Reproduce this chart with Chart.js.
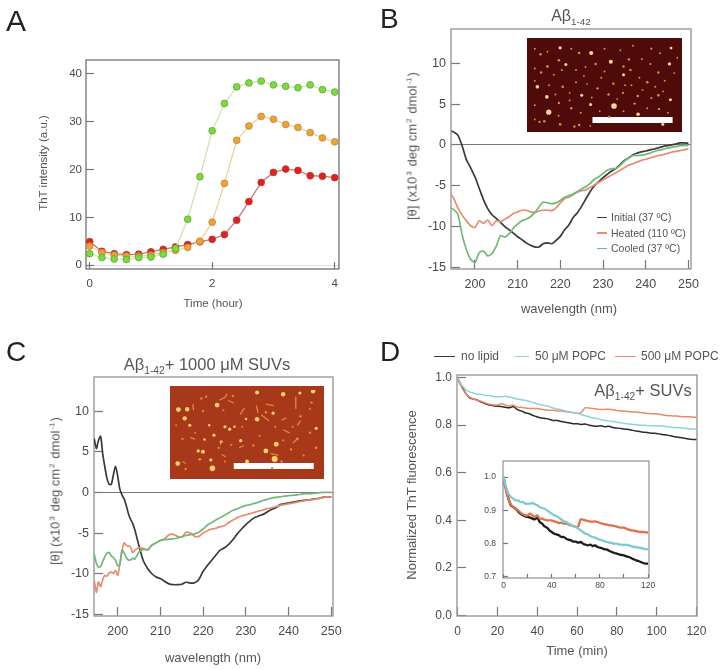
<!DOCTYPE html>
<html>
<head>
<meta charset="utf-8">
<script src="https://cdn.jsdelivr.net/npm/chart.js@4"></script>
<style>
    html, body { margin: 0; padding: 0; background: #fff; }
    #figure { position: relative; width: 726px; height: 670px; overflow: hidden; filter: blur(0.45px); font-family: "Liberation Sans", Arial, sans-serif; color: #555; }
    #figure canvas { position: absolute; }
    .lbl { position: absolute; white-space: nowrap; line-height: 1; }
    .lbl sub, .lbl sup { font-size: 62%; line-height: 0; }
    .lbl sup { margin: 0 1px; }
    .mid { transform: translate(-50%, -50%); }
    .rot { transform: translate(-50%, -50%) rotate(-90deg); }
    .row { transform: translateY(-50%); }
    .swatch { position: absolute; height: 1.6px; }
</style>
</head>
<body>
<div id="figure"></div>
<script>
// ========================================
// DATA
// ========================================

// Panel A - ThT kinetics
const hours = [0, 0.2, 0.4, 0.6, 0.8, 1, 1.2, 1.4, 1.6, 1.8, 2, 2.2, 2.4, 2.6, 2.8, 3, 3.2, 3.4, 3.6, 3.8, 4];
const thtGreen = [2.4, 1.6, 1.3, 1.2, 1.6, 1.7, 2.3, 3.5, 9.6, 18.5, 28.1, 33.8, 37.3, 38.1, 38.5, 37.7, 37.4, 37.1, 37.7, 36.7, 36.2];
const thtOrange = [4.0, 2.6, 2.1, 1.9, 1.9, 2.1, 2.6, 3.1, 3.7, 5.0, 9.0, 17.1, 26.1, 29.1, 31.1, 30.5, 29.4, 28.8, 27.7, 26.6, 25.8];
const thtRed = [4.9, 2.9, 2.4, 2.2, 2.3, 2.8, 3.3, 3.8, 4.3, 4.9, 5.4, 6.4, 9.4, 13.3, 17.3, 19.4, 20.1, 19.8, 18.7, 18.6, 18.3];

// Panel B - CD spectra
const nmB = [194.5, 195, 196, 197, 198, 199, 200, 201, 202, 203, 204, 205, 206, 207, 208, 209, 210, 211, 212, 213, 214, 215, 216, 217, 218, 219, 220, 221, 222, 223, 224, 225, 226, 227, 228, 229, 230, 231, 232, 233, 234, 235, 236, 237, 238, 239, 240, 241, 242, 243, 244, 245, 246, 247, 248, 249, 250];
const initialB = [1.7, 1.6, 1.2, -0.1, -1.8, -2.8, -3.9, -5.3, -6.7, -7.8, -8.55, -9.0, -9.5, -10.0, -10.4, -10.8, -11.25, -11.6, -12.0, -12.3, -12.5, -12.5, -12.1, -12.0, -12.1, -11.7, -11.2, -10.4, -9.8, -8.9, -8.3, -7.5, -6.6, -5.7, -5.0, -4.5, -4.0, -3.6, -3.2, -2.9, -2.4, -1.9, -1.6, -1.2, -1.0, -0.85, -0.75, -0.6, -0.5, -0.35, -0.2, -0.1, 0, 0.1, 0.25, 0.25, 0.2];
const heatedB = [-6.1, -6.5, -7.7, -8.6, -9.3, -9.9, -10.1, -9.3, -9.6, -9.2, -9.9, -9.3, -9.4, -9.1, -8.8, -8.4, -8.2, -8.0, -8.0, -8.2, -8.3, -8.1, -8.0, -8.0, -8.05, -7.7, -7.1, -6.6, -6.4, -6.1, -5.8, -5.6, -5.5, -5.2, -4.9, -4.6, -4.3, -4.0, -3.7, -3.4, -3.1, -2.8, -2.5, -2.3, -2.1, -1.9, -1.75, -1.6, -1.45, -1.3, -1.2, -1.05, -0.9, -0.8, -0.7, -0.6, -0.5];
const cooledB = [-7.8, -7.9, -8.5, -11.0, -12.8, -14.0, -14.4, -13.2, -13.0, -13.6, -13.3, -12.4, -11.1, -11.3, -10.9, -10.2, -9.7, -9.3, -9.1, -8.8, -8.3, -7.6, -7.0, -7.1, -7.2, -7.1, -6.8, -6.4, -6.2, -6.0, -5.7, -5.4, -5.1, -4.7, -4.2, -3.9, -3.5, -3.1, -2.9, -2.9, -2.5, -2.0, -1.6, -1.3, -1.3, -1.25, -1.15, -1.0, -0.8, -0.65, -0.55, -0.4, -0.3, -0.2, -0.1, -0.05, -0.05];

// Panel C - CD spectra with SUVs
const nmC = [194.5, 195, 195.5, 196, 196.5, 197, 197.5, 198, 198.5, 199, 199.5, 200, 200.5, 201, 201.5, 202, 202.5, 203, 203.5, 204, 205, 206, 207, 208, 209, 210, 211, 212, 213, 214, 215, 216, 217, 218, 219, 220, 221, 222, 223, 224, 225, 226, 227, 228, 229, 230, 231, 232, 233, 234, 235, 236, 237, 238, 239, 240, 241, 242, 243, 244, 245, 246, 247, 248, 249, 250];
const blackC = [6.6, 5.4, 6.4, 6.9, 4.7, 3.1, 1.7, 1.0, 1.0, 2.2, 3.2, 2.0, 0.4, -0.3, -0.8, -1.6, -2.6, -3.3, -3.8, -4.6, -6.6, -8.4, -9.35, -10.0, -10.4, -10.6, -10.95, -11.25, -11.35, -11.35, -11.3, -11.05, -11.15, -11.1, -10.7, -9.7, -9.0, -8.35, -7.7, -7.1, -6.8, -6.4, -5.8, -5.1, -4.5, -3.95, -3.5, -3.1, -2.9, -2.7, -2.4, -2.1, -1.9, -1.5, -1.4, -1.3, -1.2, -1.1, -1.0, -0.95, -0.9, -0.8, -0.75, -0.6, -0.55, -0.55];
const orangeC = [-10.8, -12.3, -11.0, -11.6, -10.7, -10.2, -10.3, -9.9, -9.8, -10.0, -9.6, -10.2, -8.8, -7.2, -6.2, -6.5, -6.6, -6.7, -7.4, -7.1, -6.8, -6.9, -7.1, -6.5, -6.2, -5.9, -5.7, -5.2, -5.15, -5.4, -5.5, -4.9, -5.0, -5.4, -5.4, -5.0, -4.7, -4.5, -4.4, -4.2, -4.1, -3.7, -3.4, -3.1, -2.9, -2.75, -2.6, -2.45, -2.3, -2.15, -2.0, -1.9, -1.75, -1.6, -1.5, -1.4, -1.3, -1.2, -1.1, -1.0, -0.9, -0.85, -0.75, -0.65, -0.55, -0.6];
const greenC = [-7.6, -8.7, -9.2, -9.1, -8.5, -7.9, -7.5, -7.4, -7.8, -8.0, -8.4, -9.0, -8.9, -7.1, -7.4, -8.0, -8.3, -8.3, -8.1, -8.2, -7.3, -7.0, -7.0, -6.5, -6.2, -5.9, -5.8, -5.75, -5.7, -5.6, -5.45, -5.3, -5.2, -5.1, -4.9, -4.5, -4.0, -3.7, -3.4, -3.1, -2.8, -2.5, -2.2, -2.0, -1.8, -1.6, -1.5, -1.35, -1.2, -1.0, -0.85, -0.7, -0.6, -0.55, -0.45, -0.4, -0.35, -0.3, -0.2, -0.15, -0.15, -0.1, -0.05, 0, 0, 0];

// Panel D - normalized fluorescence
const minutes = [0, 1, 2, 3, 4, 5, 6, 8, 10, 12, 14, 16, 18, 20, 22, 24, 26, 28, 30, 32, 34, 36, 38, 40, 42, 44, 46, 48, 50, 52, 54, 56, 58, 60, 62, 64, 66, 68, 70, 72, 74, 76, 78, 80, 82, 84, 86, 88, 90, 92, 94, 96, 98, 100, 102, 104, 106, 108, 110, 112, 114, 116, 118, 120];
const noLipid = [1.0, 0.98, 0.965, 0.95, 0.935, 0.925, 0.915, 0.91, 0.905, 0.897, 0.89, 0.885, 0.882, 0.88, 0.878, 0.875, 0.873, 0.878, 0.865, 0.86, 0.852, 0.848, 0.84, 0.835, 0.83, 0.828, 0.825, 0.82, 0.82, 0.815, 0.812, 0.81, 0.806, 0.806, 0.803, 0.805, 0.8, 0.797, 0.795, 0.797, 0.793, 0.795, 0.79, 0.788, 0.786, 0.783, 0.782, 0.778, 0.775, 0.772, 0.77, 0.768, 0.766, 0.765, 0.762, 0.76, 0.757, 0.753, 0.75, 0.748, 0.745, 0.742, 0.74, 0.74];
const popc50 = [1.0, 0.985, 0.97, 0.96, 0.95, 0.945, 0.94, 0.935, 0.93, 0.93, 0.925, 0.925, 0.92, 0.92, 0.92, 0.922, 0.918, 0.915, 0.91, 0.907, 0.905, 0.9, 0.895, 0.89, 0.885, 0.882, 0.878, 0.872, 0.868, 0.865, 0.86, 0.857, 0.852, 0.85, 0.845, 0.84, 0.835, 0.83, 0.828, 0.823, 0.82, 0.818, 0.815, 0.812, 0.81, 0.807, 0.805, 0.803, 0.802, 0.8, 0.8, 0.798, 0.797, 0.796, 0.797, 0.795, 0.793, 0.79, 0.79, 0.788, 0.787, 0.785, 0.783, 0.784];
const popc500 = [1.0, 0.975, 0.96, 0.945, 0.935, 0.925, 0.918, 0.91, 0.905, 0.9, 0.893, 0.888, 0.885, 0.885, 0.89, 0.885, 0.88, 0.885, 0.875, 0.875, 0.872, 0.87, 0.87, 0.87, 0.867, 0.865, 0.862, 0.863, 0.86, 0.86, 0.857, 0.855, 0.853, 0.85, 0.852, 0.873, 0.872, 0.87, 0.868, 0.866, 0.866, 0.867, 0.865, 0.862, 0.86, 0.858, 0.857, 0.855, 0.855, 0.853, 0.851, 0.849, 0.848, 0.848, 0.845, 0.842, 0.84, 0.839, 0.838, 0.836, 0.835, 0.835, 0.834, 0.833];

// AFM image of panel B - spots as [x, y, radius]
const afmSpotsB = [
    [100, 27, 1.6], [198, 44, 2], [38, 48, 1.3], [160, 44, 1.3], [96, 68, 1.3], [118, 82, 1.5], [260, 73, 2], [212, 80, 1.2], [317, 65, 1.2], [358, 64, 1],
    [445, 80, 1.6], [450, 28, 1.4], [388, 30, 1.1], [60, 88, 1.3], [28, 155, 1.8], [58, 188, 1.8], [168, 183, 1.5], [270, 218, 2.8], [64, 238, 2.6], [196, 213, 1.5],
    [346, 245, 1.8], [255, 254, 1.3], [424, 278, 1.5], [300, 115, 1.5], [322, 100, 1.2], [300, 88, 1.2], [410, 108, 1.2], [375, 140, 1.3], [268, 145, 1.2], [108, 155, 1.3],
    [218, 160, 1.2], [253, 180, 1.3], [298, 175, 1.1], [345, 185, 1.3], [410, 183, 1.3], [448, 197, 1.5], [388, 192, 1.1], [335, 210, 1.2], [412, 228, 1.2], [96, 208, 1.2],
    [135, 225, 1.2], [35, 270, 1.1], [50, 268, 1.3], [100, 278, 1.3], [145, 285, 1.2], [160, 280, 1.2], [20, 30, 1], [60, 40, 0.9], [135, 30, 1], [240, 30, 1],
    [290, 35, 0.9], [330, 20, 1], [415, 45, 1], [470, 60, 1], [20, 95, 1], [40, 108, 1.2], [80, 115, 1], [150, 100, 1], [180, 90, 0.9], [240, 105, 1],
    [350, 125, 1], [430, 135, 1], [460, 110, 0.9], [20, 135, 0.9], [65, 150, 1], [150, 140, 1], [185, 145, 0.9], [230, 125, 1], [325, 150, 1], [400, 155, 1],
    [85, 180, 1], [130, 175, 0.9], [280, 195, 0.9], [360, 165, 0.9], [425, 170, 0.9], [20, 215, 1], [130, 200, 1], [165, 240, 1], [225, 235, 0.9], [300, 235, 1],
    [375, 225, 1], [440, 240, 1], [95, 250, 1], [200, 190, 0.9], [20, 262, 0.9], [195, 283, 0.9], [305, 150, 1], [175, 120, 0.9], [105, 100, 1], [385, 80, 1]
];
const scaleBarBX = [202, 455];
const scaleBarBY = [264, 264];

// AFM image of panel C
const afmBlobsC = [
    [145, 58, 2.4], [22, 73, 2.4], [50, 72, 2.2], [42, 102, 2.2], [58, 125, 1.6], [272, 105, 2.2], [170, 130, 1.6], [185, 138, 1.6], [200, 130, 1.2], [237, 104, 1.2],
    [323, 85, 1.6], [355, 22, 2.2], [272, 16, 2], [408, 18, 1.6], [450, 12, 2.2], [300, 210, 2.4], [333, 188, 2.4], [328, 237, 3], [20, 252, 2.4], [130, 268, 2.8],
    [125, 240, 1.6], [85, 210, 1.6], [100, 213, 2], [240, 245, 2], [158, 180, 1.6], [220, 176, 1.6], [105, 172, 1.2], [135, 158, 1.6], [120, 125, 1.2], [460, 135, 1.6]
];
const afmDotsC = [
    [195, 28, 1.2], [95, 36, 1.3], [110, 30, 1.2], [445, 50, 1.2], [100, 78, 1.2], [165, 75, 1], [300, 82, 1.3], [410, 95, 1.2], [440, 70, 1], [330, 130, 1],
    [385, 130, 1.1], [440, 150, 1.2], [75, 150, 1], [35, 170, 1.2], [190, 190, 1.1], [260, 192, 1.2], [400, 170, 1.4], [380, 205, 1.2], [460, 200, 1.3], [150, 200, 1.2],
    [90, 238, 1.4], [45, 270, 1.2], [170, 245, 1], [350, 245, 1.2], [320, 268, 1.3], [420, 225, 1.1], [225, 130, 1], [280, 160, 1.1], [355, 175, 1.1], [15, 125, 1]
];
const afmFibrilsCX = [152, 170, 177, null, 218, 225, 232, null, 180, 198, null, 68, 70, null, 395, 395, null, 285, 310, null, 270, 275, null, 300, 325, null, 230, 215, null, 160, 155, null, 315, 340, null, 60, 75, null, 385, 400, null, 35, 45, null, 410, 400, null, 350, 365, null, 355, 375, null, 160, 172];
const afmFibrilsCY = [42, 32, 20, null, 90, 78, 68, null, 42, 52, null, 55, 75, null, 30, 70, null, 90, 110, null, 60, 85, null, 55, 60, null, 192, 200, null, 175, 190, null, 218, 225, null, 165, 172, null, 185, 170, null, 245, 252, null, 110, 125, null, 108, 100, null, 140, 150, null, 222, 230];
const scaleBarCX = [198, 452];
const scaleBarCY = [260, 260];

// ========================================
// HELPERS
// ========================================

const figure = document.getElementById('figure');
const FONT = '"Liberation Sans", Arial, sans-serif';
const TICK_COLOR = '#4a4a4a';

Chart.defaults.animation = false;
Chart.defaults.responsive = false;
Chart.defaults.font.family = FONT;
Chart.defaults.color = TICK_COLOR;
Chart.defaults.plugins.legend.display = false;
Chart.defaults.plugins.tooltip.enabled = false;

const label = (html, x, y, size, cls = 'mid', color = '#555') => {
    const el = document.createElement('div');
    el.className = 'lbl ' + cls;
    el.style.cssText = `left:${x}px;top:${y}px;font-size:${size}px;color:${color}`;
    el.innerHTML = html;
    figure.appendChild(el);
};

const swatch = (x, y, width, color) => {
    const el = document.createElement('div');
    el.className = 'swatch';
    el.style.cssText = `left:${x}px;top:${y}px;width:${width}px;background:${color}`;
    figure.appendChild(el);
};

const framePlugin = (color, width) => ({
    id: 'frame',
    beforeDatasetsDraw(chart) {
        const { left, top, right, bottom } = chart.chartArea;
        const ctx = chart.ctx;
        ctx.save();
        ctx.strokeStyle = color;
        ctx.lineWidth = width;
        ctx.strokeRect(left, top, right - left, bottom - top);
        ctx.restore();
    }
});

const noPadding = (s) => {
    s.paddingTop = 0;
    s.paddingBottom = 0;
    s.paddingLeft = 0;
    s.paddingRight = 0;
};

// Creates a canvas whose plot area sits exactly on the given box
const plot = (box, config, gutter = { left: 40, bottom: 26, top: 8, right: 14 }) => {
    const canvas = document.createElement('canvas');
    canvas.width = box.right - box.left + gutter.left + gutter.right;
    canvas.height = box.bottom - box.top + gutter.top + gutter.bottom;
    canvas.style.left = (box.left - gutter.left) + 'px';
    canvas.style.top = (box.top - gutter.top) + 'px';
    figure.appendChild(canvas);
    config.options.layout = { padding: { top: gutter.top, right: gutter.right, left: 0, bottom: 0 } };
    config.options.scales.x.afterFit = (s) => { s.height = gutter.bottom; noPadding(s); };
    config.options.scales.y.afterFit = (s) => { s.width = gutter.left; noPadding(s); };
    return new Chart(canvas.getContext('2d'), config);
};

const axis = (min, max, step, size, tick, pad, extra = {}) => ({
    type: 'linear',
    min,
    max,
    ticks: { stepSize: step, includeBounds: false, autoSkip: false, padding: pad + tick, font: { size }, color: TICK_COLOR },
    grid: { drawOnChartArea: false, tickLength: -tick, tickColor: '#777', tickWidth: 1.2 },
    border: { display: false },
    ...extra
});

const pairs = (xs, ys) => xs.map((x, i) => ({ x, y: ys[i] }));

const trace = (xs, ys, color, width = 1.7) => ({
    data: pairs(xs, ys),
    borderColor: color,
    borderWidth: width,
    pointRadius: 0,
    tension: 0.25
});

const zeroLine = (scale, color) => ({
    ...scale,
    grid: {
        ...scale.grid,
        drawOnChartArea: true,
        color: (c) => (c.tick.value === 0 ? color : 'rgba(0,0,0,0)')
    }
});

const kinetic = (ys, line, fill, edge) => ({
    data: pairs(hours, ys),
    borderColor: line,
    borderWidth: 1.3,
    pointRadius: 3.4,
    pointBackgroundColor: fill,
    pointBorderColor: edge,
    pointBorderWidth: 0.8,
    clip: false
});

// ========================================
// PANEL A
// ========================================

plot({ left: 86, top: 60, right: 339, bottom: 269 }, {
    type: 'line',
    data: {
        datasets: [
            kinetic(thtGreen, '#cfe7ae', '#7fd83c', '#5aa83a'),
            kinetic(thtOrange, '#f2cf9c', '#efa234', '#b98a3c'),
            kinetic(thtRed, '#c97a78', '#e2201c', '#b03a30')
        ]
    },
    options: {
        scales: {
            x: axis(-0.06, 4.07, 2, 11.5, 7, 8),
            y: zeroLine(axis(-0.8, 42.9, 10, 11.5, 8, 4), 'rgba(0,0,0,0.14)')
        }
    },
    plugins: [framePlugin('#666', 1.2)]
});

label('A', 6, 6, 30, '', '#222');
label('ThT intensity (a.u.)', 44, 163, 11.5, 'rot');
label('Time (hour)', 213, 304, 11.5);

// ========================================
// PANEL B
// ========================================

plot({ left: 451, top: 29, right: 691, bottom: 269 }, {
    type: 'line',
    data: {
        datasets: [
            trace(nmB, cooledB, '#72b878'),
            trace(nmB, heatedB, '#e88c70'),
            trace(nmB, initialB, '#3a3a3a')
        ]
    },
    options: {
        scales: {
            x: axis(194.4, 250.6, 10, 12.5, 9, 8),
            y: zeroLine(axis(-15.2, 14.2, 5, 12.5, 9, 5), '#777')
        }
    },
    plugins: [framePlugin('#999', 1.4)]
});

label('B', 380, 5, 28, '', '#222');
label('Aβ<sub>1-42</sub>', 571, 16, 16);
label('[θ] (x10<sup>3</sup> deg cm<sup>2</sup> dmol<sup>-1</sup>)', 412, 146, 13, 'rot');
label('wavelength (nm)', 569, 308, 13);

swatch(597, 216.5, 10, '#3a3a3a');
swatch(597, 232, 10, '#e88c70');
swatch(597, 247.5, 10, '#72b878');
label('Initial (37 ºC)', 611, 217, 10.5, 'row');
label('Heated (110 ºC)', 611, 232.5, 10.5, 'row');
label('Cooled (37 ºC)', 611, 248, 10.5, 'row');

// ========================================
// PANEL C
// ========================================

plot({ left: 94, top: 377, right: 333, bottom: 616 }, {
    type: 'line',
    data: {
        datasets: [
            trace(nmC, greenC, '#72b878'),
            trace(nmC, orangeC, '#e88c70'),
            trace(nmC, blackC, '#3a3a3a')
        ]
    },
    options: {
        scales: {
            x: axis(194.45, 250.4, 10, 12.5, 9, 8),
            y: zeroLine(axis(-15.2, 14.2, 5, 12.5, 9, 5), '#777')
        }
    },
    plugins: [framePlugin('#999', 1.4)]
});

label('C', 6, 338, 28, '', '#222');
label('Aβ<sub>1-42</sub>+ 1000 μM SUVs', 207, 364, 16.5);
label('[θ] (x10<sup>3</sup> deg cm<sup>2</sup> dmol<sup>-1</sup>)', 55, 491, 13, 'rot');
label('wavelength (nm)', 213, 657, 13);

// ========================================
// PANEL D
// ========================================

plot({ left: 457, top: 375, right: 697, bottom: 616 }, {
    type: 'line',
    data: {
        datasets: [
            trace(minutes, popc50, '#8fd3d6', 1.5),
            trace(minutes, popc500, '#e98a68', 1.5),
            trace(minutes, noLipid, '#2b2b2b', 1.5)
        ]
    },
    options: {
        scales: {
            x: axis(-0.3, 120.3, 20, 12, 9, 8),
            y: axis(-0.003, 1.011, 0.2, 12, 9, 5, {
                ticks: { stepSize: 0.2, includeBounds: false, padding: 14, font: { size: 12 }, color: TICK_COLOR, callback: (v) => v.toFixed(1) }
            })
        }
    },
    plugins: [framePlugin('#999', 1.4)]
});

label('D', 380, 338, 28, '', '#222');
label('Aβ<sub>1-42</sub>+ SUVs', 643, 390, 16.5);
label('Normalized ThT fluorescence', 411, 495, 13, 'rot');
label('Time (min)', 577, 650, 13);

swatch(434, 355.5, 21, '#3a3a3a');
swatch(515, 355.5, 14, '#8fd3d6');
swatch(615, 355.5, 21, '#e98a68');
label('no lipid', 461, 356, 12, 'row');
label('50 μM POPC', 535, 356, 12, 'row');
label('500 μM POPC', 641, 356, 12, 'row');

// Inset of panel D
plot({ left: 503, top: 461, right: 649, bottom: 578 }, {
    type: 'line',
    data: {
        datasets: [
            trace(minutes, popc50, '#7ccbd0', 2.3),
            trace(minutes, popc500, '#e0704a', 2.3),
            trace(minutes, noLipid, '#1c1c1c', 2.3)
        ]
    },
    options: {
        scales: {
            x: axis(-0.5, 120.8, 20, 8.5, 4, 5, {
                ticks: { stepSize: 20, includeBounds: false, autoSkip: false, maxRotation: 0, padding: 7, font: { size: 8.5 }, color: TICK_COLOR, callback: (v) => (v % 40 === 0 ? v : '') }
            }),
            y: axis(0.697, 1.048, 0.1, 8.5, 5, 4, {
                ticks: { stepSize: 0.1, includeBounds: false, padding: 12, font: { size: 8.5 }, color: TICK_COLOR, callback: (v) => v.toFixed(1) }
            })
        }
    },
    plugins: [framePlugin('#888', 1.1)]
}, { left: 24, bottom: 16, top: 3, right: 8 });

// ========================================
// AFM IMAGES
// ========================================

const afm = (box, background, datasets) => {
    const canvas = document.createElement('canvas');
    canvas.width = box.right - box.left;
    canvas.height = box.bottom - box.top;
    canvas.style.left = box.left + 'px';
    canvas.style.top = box.top + 'px';
    canvas.style.background = background;
    figure.appendChild(canvas);
    return new Chart(canvas.getContext('2d'), {
        type: 'bubble',
        data: { datasets },
        options: {
            layout: { padding: 0 },
            scales: {
                x: { type: 'linear', display: false, min: 8, max: 472 },
                y: { type: 'linear', display: false, min: 8, max: 290, reverse: true }
            }
        }
    });
};

const spots = (list, color) => ({
    data: list.map(([x, y, r]) => ({ x, y, r })),
    backgroundColor: color,
    borderWidth: 0
});

const scaleBar = (xs, ys) => ({
    type: 'line',
    data: pairs(xs, ys),
    borderColor: '#fff',
    borderWidth: 6,
    pointRadius: 0
});

afm({ left: 527, top: 38, right: 682, bottom: 132 }, '#4f0a0a', [
    spots(afmSpotsB.filter((s) => s[2] < 1.4), '#d98c48'),
    spots(afmSpotsB.filter((s) => s[2] >= 1.4), '#fbd79a'),
    scaleBar(scaleBarBX, scaleBarBY)
]);

afm({ left: 170, top: 386, right: 324, bottom: 479 }, '#a8381a', [
    { type: 'line', data: pairs(afmFibrilsCX, afmFibrilsCY), borderColor: '#dd8a3a', borderWidth: 1.3, pointRadius: 0, spanGaps: false },
    spots(afmDotsC, '#e08a3c'),
    spots(afmBlobsC, '#f8d070'),
    scaleBar(scaleBarCX, scaleBarCY)
]);
</script>
</body>
</html>
